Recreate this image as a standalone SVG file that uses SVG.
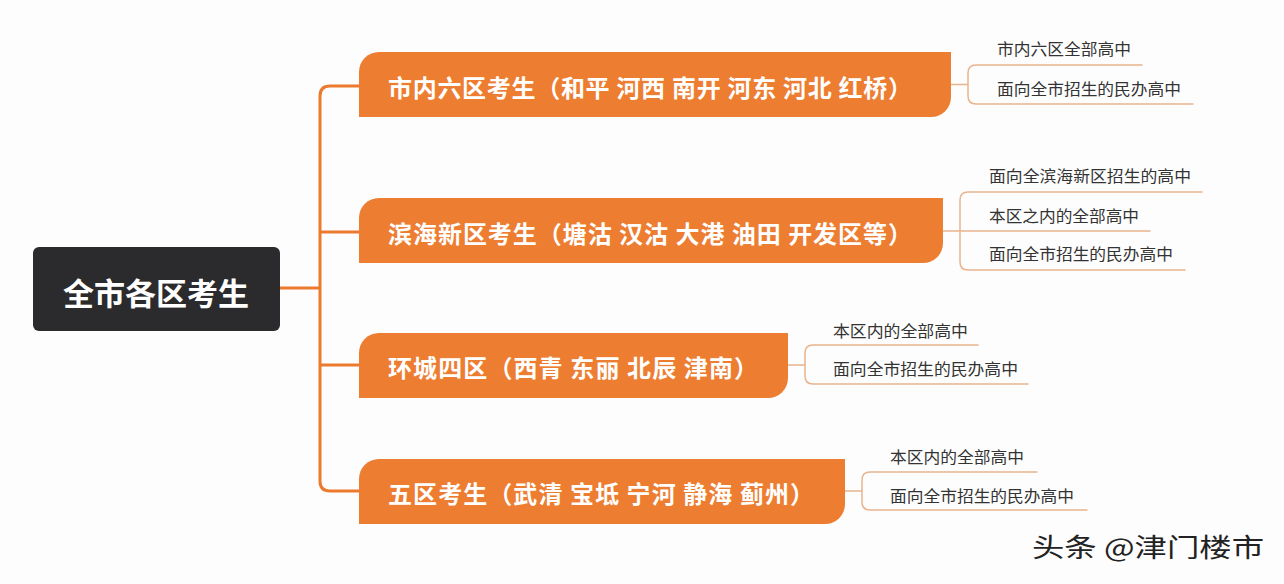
<svg xmlns="http://www.w3.org/2000/svg" width="1284" height="584" viewBox="0 0 1284 584">
<style>
  .cjk{font-family:"Noto Sans CJK SC","Noto Sans",sans-serif}
  .branch{fill:#ED7D31}
  .btext{fill:#ffffff;font-size:24px;font-weight:bold;dominant-baseline:central}
  .leaf{fill:#333333;font-size:16px}
  .main{fill:none;stroke:#EC7A2E;stroke-width:3;stroke-linecap:round;stroke-linejoin:round}
  .sub{fill:none;stroke:#E8B48E;stroke-width:1.5;stroke-linecap:round}
</style>
<rect x="0" y="0" width="1284" height="584" fill="#fdfdfd"/>
<g id="connectors">
  <path class="main" d="M280,288 H320 M359,86 H330 Q320,86 320,96 V481 Q320,491 330,491 H359 M320,232 H359 M320,365 H359"/>
  <path class="sub" d="M951,84.5 H968 M1142,65 H976 Q968,65 968,73 V96 Q968,104 976,104 H1193"/>
  <path class="sub" d="M943,231 H1150 M1202,192 H968 Q960,192 960,200 V262 Q960,270 968,270 H1185"/>
  <path class="sub" d="M788,365 H805 M978,345 H813 Q805,345 805,353 V376 Q805,384 813,384 H1028"/>
  <path class="sub" d="M845,491 H862 M1037,472 H870 Q862,472 862,480 V502 Q862,510 870,510 H1087"/>
</g>
<g id="root">
  <rect x="33" y="247" width="247" height="84" rx="6" fill="#2b2b2d"/>
  <text class="cjk" x="156" y="291" text-anchor="middle" dominant-baseline="central" fill="#ffffff" font-size="31" font-weight="bold">全市各区考生</text>
</g>
<g id="n1">
  <path class="branch" d="M359,117 V72 A20,20 0 0 1 379,52 H951 V97 A20,20 0 0 1 931,117 Z"/>
  <text class="cjk btext" x="388" y="86" textLength="524" lengthAdjust="spacing">市内六区考生（和平 河西 南开 河东 河北 红桥）</text>
</g>
<g id="n1-leaves">
  <text class="cjk leaf" x="997" y="55" textLength="134" lengthAdjust="spacingAndGlyphs">市内六区全部高中</text>
  <text class="cjk leaf" x="997" y="95" textLength="184" lengthAdjust="spacingAndGlyphs">面向全市招生的民办高中</text>
</g>
<g id="n2">
  <path class="branch" d="M359,263 V218 A20,20 0 0 1 379,198 H943 V243 A20,20 0 0 1 923,263 Z"/>
  <text class="cjk btext" x="388" y="232" textLength="524" lengthAdjust="spacing">滨海新区考生（塘沽 汉沽 大港 油田 开发区等）</text>
</g>
<g id="n2-leaves">
  <text class="cjk leaf" x="989" y="182" textLength="202" lengthAdjust="spacingAndGlyphs">面向全滨海新区招生的高中</text>
  <text class="cjk leaf" x="989" y="222" textLength="150" lengthAdjust="spacingAndGlyphs">本区之内的全部高中</text>
  <text class="cjk leaf" x="989" y="260" textLength="184" lengthAdjust="spacingAndGlyphs">面向全市招生的民办高中</text>
</g>
<g id="n3">
  <path class="branch" d="M359,398 V353 A20,20 0 0 1 379,333 H788 V378 A20,20 0 0 1 768,398 Z"/>
  <text class="cjk btext" x="388" y="366" textLength="370" lengthAdjust="spacing">环城四区（西青 东丽 北辰 津南）</text>
</g>
<g id="n3-leaves">
  <text class="cjk leaf" x="833" y="337" textLength="135" lengthAdjust="spacingAndGlyphs">本区内的全部高中</text>
  <text class="cjk leaf" x="833" y="375" textLength="185" lengthAdjust="spacingAndGlyphs">面向全市招生的民办高中</text>
</g>
<g id="n4">
  <path class="branch" d="M359,524 V479 A20,20 0 0 1 379,459 H845 V504 A20,20 0 0 1 825,524 Z"/>
  <text class="cjk btext" x="388" y="492" textLength="426" lengthAdjust="spacing">五区考生（武清 宝坻 宁河 静海 蓟州）</text>
</g>
<g id="n4-leaves">
  <text class="cjk leaf" x="890" y="463" textLength="134" lengthAdjust="spacingAndGlyphs">本区内的全部高中</text>
  <text class="cjk leaf" x="890" y="502" textLength="184" lengthAdjust="spacingAndGlyphs">面向全市招生的民办高中</text>
</g>
<text class="cjk" x="1032" y="557" fill="#222222" font-size="26" textLength="232" lengthAdjust="spacingAndGlyphs">头条 @津门楼市</text>
</svg>
